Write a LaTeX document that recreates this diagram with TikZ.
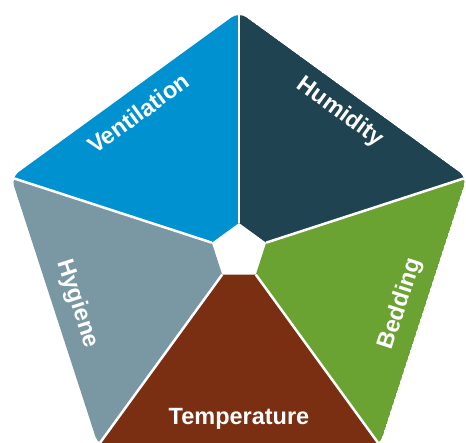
\documentclass[tikz,border=0pt]{standalone}
\usepackage{fontspec}
\setmainfont{Liberation Sans}
\usetikzlibrary{calc}

\definecolor{ventblue}{HTML}{0091D1}
\definecolor{humiddark}{HTML}{1F4351}
\definecolor{beddinggreen}{HTML}{6BA332}
\definecolor{tempbrown}{HTML}{7B2F12}
\definecolor{hygienegrey}{HTML}{7A97A4}

\begin{document}
\begin{tikzpicture}[x=1pt, y=1pt, every node/.style={text=white, inner sep=0pt, font=\fontsize{23.5}{28}\selectfont\bfseries}]
    \useasboundingbox (0,0) rectangle (466,443);
    \coordinate (C) at (239,191.5);
    % outer and inner corners
    \foreach \i/\a in {1/90, 2/162, 3/234, 4/306, 5/18} {
        \coordinate (o\i) at ($(C)+(\a:239.5)$);
        \coordinate (i\i) at ($(C)+(\a:28.6)$);
    }
    \begin{scope}
        \clip[rounded corners=9] (o1) -- (o2) -- (o3) -- (o4) -- (o5) -- cycle;
        \fill[ventblue] (i1) -- (o1) -- (o2) -- (i2) -- cycle;
        \fill[hygienegrey] (i2) -- (o2) -- (o3) -- (i3) -- cycle;
        \fill[tempbrown] (i3) -- (o3) -- (o4) -- (i4) -- cycle;
        \fill[beddinggreen] (i4) -- (o4) -- (o5) -- (i5) -- cycle;
        \fill[humiddark] (i5) -- (o5) -- (o1) -- (i1) -- cycle;
        \foreach \i in {1,...,5}
            \draw[white, line width=2.5] (i\i) -- ($(C)!1.1!(o\i)$);
    \end{scope}
    \node[rotate=36] (vent) at ($(C)+(126:171)$) {Ventilation};
    \node[rotate=-36] (humid) at ($(C)+(54:172)$) {Humidity};
    \node[rotate=-72] (hyg) at ($(C)+(198:170)$) {Hygiene};
    \node[rotate=72] (bed) at ($(C)+(342:170)$) {Bedding};
    \node (temp) at ($(C)+(270:167.5)$) {Temperature};
\end{tikzpicture}
\end{document}
